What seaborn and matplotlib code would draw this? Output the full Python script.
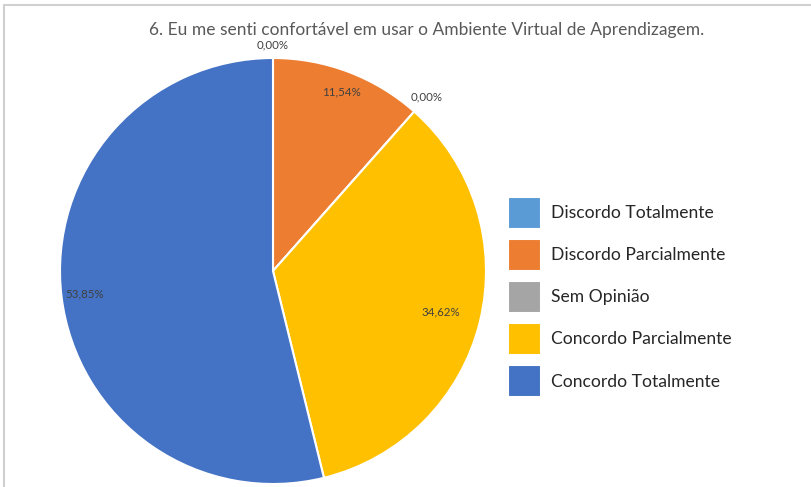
import numpy as np
import seaborn as sns
import matplotlib.pyplot as plt
from matplotlib.lines import Line2D

# data
categorias = ["Discordo Totalmente", "Discordo Parcialmente", "Sem Opinião",
              "Concordo Parcialmente", "Concordo Totalmente"]
percentuais = [0.00, 11.54, 0.00, 34.62, 53.85]
rotulos = ["0,00%", "11,54%", "0,00%", "34,62%", "53,85%"]
titulo = "6. Eu me senti confortável em usar o Ambiente Virtual de Aprendizagem."

cores = ["#5B9BD5", "#ED7D31", "#A5A5A5", "#FFC000", "#4472C4"]
# radial position of each label (fraction of radius), like Excel "best fit"
dist_rotulo = [1.06, 0.90, 1.09, 0.81, 0.89]

sns.set_theme(style="white")
plt.rcParams['font.family'] = ['Lato', 'DejaVu Sans']

fig = plt.figure(figsize=(8.11, 4.87), dpi=100)
W, H = 811, 487

# outer frame lines (top and left) of the embedded chart image
frame = fig.add_axes([0, 0, 1, 1])
frame.set_xlim(0, W)
frame.set_ylim(H, 0)
frame.axis("off")
frame.add_line(Line2D([4, W], [5, 5], color="#d0d0d0", lw=1.5))
frame.add_line(Line2D([4, 4], [5, H], color="#d0d0d0", lw=1.5))

cx, cy, r = 273, 271, 213
ax = fig.add_axes([(cx - r) / W, (H - cy - r) / H, 2 * r / W, 2 * r / H])
wedges, _ = ax.pie(percentuais, colors=cores, startangle=90, counterclock=False,
                   radius=1, wedgeprops=dict(edgecolor="white", linewidth=1.5))
ax.set_xlim(-1, 1)
ax.set_ylim(-1, 1)
ax.axis("off")

for w, txt, d in zip(wedges, rotulos, dist_rotulo):
    ang = np.deg2rad((w.theta1 + w.theta2) / 2)
    ax.text(d * np.cos(ang), d * np.sin(ang), txt, ha="center", va="center",
            fontsize=8.3, color="#404040")

fig.text(427 / W, 1 - 30 / H, titulo, ha="center", va="center",
         fontsize=12.5, color="#595959")

leg = fig.legend(wedges, categorias, loc="center left",
                 bbox_to_anchor=(499 / W, 1 - 297 / H), frameon=False,
                 fontsize=12.6, handlelength=1.9, handleheight=2.4,
                 handletextpad=0.55, labelspacing=0.6, borderpad=0)
for t in leg.get_texts():
    t.set_color("#262626")

fig.savefig("out.png", dpi=100)
